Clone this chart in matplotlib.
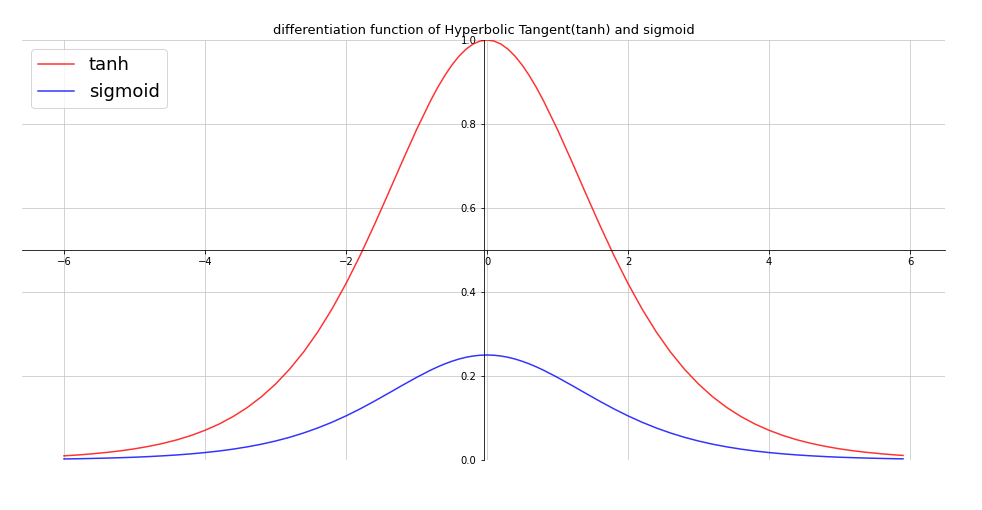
import numpy as np
import matplotlib
matplotlib.use("Agg")
import matplotlib.pyplot as plt

# sample points
x_vals = [-6.0, -5.8, -5.6, -5.4, -5.2, -5.0, -4.8, -4.6, -4.4, -4.2,
          -4.0, -3.8, -3.6, -3.4, -3.2, -3.0, -2.8, -2.6, -2.4, -2.2,
          -2.0, -1.8, -1.6, -1.4, -1.2, -1.0, -0.8, -0.7, -0.6, -0.5, -0.4, -0.3, -0.2, -0.1,
          0.0, 0.1, 0.2, 0.3, 0.4, 0.5, 0.6, 0.7, 0.8, 1.0, 1.2, 1.4, 1.6, 1.8,
          2.0, 2.2, 2.4, 2.6, 2.8, 3.0, 3.2, 3.4, 3.6, 3.8,
          4.0, 4.2, 4.4, 4.6, 4.8, 5.0, 5.2, 5.4, 5.6, 5.8, 5.9]
tanh_vals = [0.0099, 0.0120, 0.0147, 0.0179, 0.0218, 0.0266, 0.0324, 0.0394, 0.0479, 0.0582,
             0.0707, 0.0856, 0.1036, 0.1250, 0.1505, 0.1807, 0.2162, 0.2574, 0.3050, 0.3592,
             0.4200, 0.4869, 0.5591, 0.6347, 0.7116, 0.7864, 0.8556, 0.8869, 0.9151, 0.9400,
             0.9610, 0.9778, 0.9901, 0.9975,
             1.0000, 0.9975, 0.9901, 0.9778, 0.9610, 0.9400, 0.9151, 0.8869, 0.8556,
             0.7864, 0.7116, 0.6347, 0.5591, 0.4869,
             0.4200, 0.3592, 0.3050, 0.2574, 0.2162, 0.1807, 0.1505, 0.1250, 0.1036, 0.0856,
             0.0707, 0.0582, 0.0479, 0.0394, 0.0324, 0.0266, 0.0218, 0.0179, 0.0147, 0.0120, 0.0109]
sigmoid_vals = [0.0025, 0.0030, 0.0037, 0.0045, 0.0055, 0.0066, 0.0081, 0.0099, 0.0120, 0.0146,
                0.0177, 0.0214, 0.0259, 0.0313, 0.0376, 0.0452, 0.0540, 0.0644, 0.0763, 0.0898,
                0.1050, 0.1217, 0.1398, 0.1587, 0.1779, 0.1966, 0.2139, 0.2217, 0.2288, 0.2350,
                0.2403, 0.2445, 0.2475, 0.2494,
                0.2500, 0.2494, 0.2475, 0.2445, 0.2403, 0.2350, 0.2288, 0.2217, 0.2139,
                0.1966, 0.1779, 0.1587, 0.1398, 0.1217,
                0.1050, 0.0898, 0.0763, 0.0644, 0.0540, 0.0452, 0.0376, 0.0313, 0.0259, 0.0214,
                0.0177, 0.0146, 0.0120, 0.0099, 0.0081, 0.0066, 0.0055, 0.0045, 0.0037, 0.0030, 0.0027]

fig = plt.figure(figsize=(982/72, 510/72), dpi=72)
ax = fig.add_axes([22/982, 50/510, (945-22)/982, (460-40)/510])

ax.plot(x_vals, tanh_vals, color='r', alpha=0.8, lw=1.5, label='tanh')
ax.plot(x_vals, sigmoid_vals, color='b', alpha=0.8, lw=1.5, label='sigmoid')

ax.set_ylim(0, 1.0)
ax.spines['left'].set_position('center')
ax.spines['bottom'].set_position('center')
ax.spines['right'].set_color('none')
ax.spines['top'].set_color('none')
ax.grid(True, color='#c8c8c8')
ax.legend(loc='upper left', fontsize=18)
ax.set_title('differentiation function of Hyperbolic Tangent(tanh) and sigmoid', fontsize=13)

fig.savefig('out.png', dpi=72)
